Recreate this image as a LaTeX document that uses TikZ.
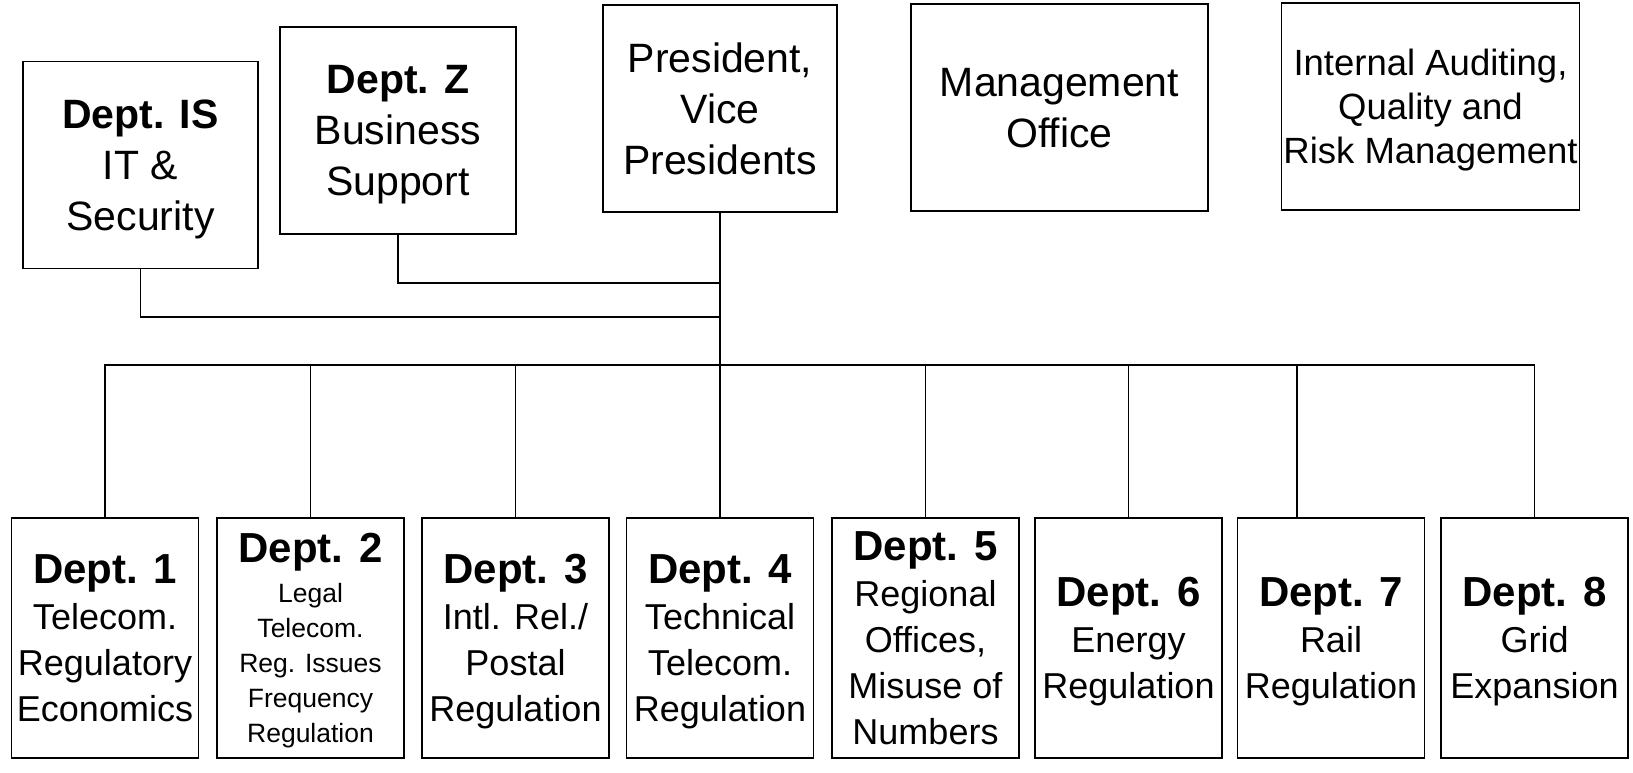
\documentclass[tikz,border=0pt]{standalone}
\usepackage{fontspec}
\setmainfont{Liberation Sans}
\usetikzlibrary{calc}
\newcommand{\depthead}[1]{{\bfseries\fontsize{42}{48}\selectfont #1}}

\begin{document}
\begin{tikzpicture}[x=1pt, y=-1pt, line width=1.8pt,
  topbox/.style={draw, line width=1.8pt, align=center, inner sep=0pt, text depth=0pt,
    minimum height=207pt, font=\fontsize{41}{51}\selectfont},
  deptbox/.style={draw, line width=1.8pt, align=center, inner sep=0pt, text depth=0pt,
    minimum width=187pt, minimum height=240pt, font=\fontsize{36}{46}\selectfont}]

\useasboundingbox (0,0) rectangle (1633,772);

% Top row
\node[topbox, minimum width=235pt] (IS) at (140.5,165) {{\bfseries Dept. IS}\\IT \&\\Security};
\node[topbox, minimum width=236pt] (Z) at (398,130.5) {{\bfseries Dept. Z}\\Business\\Support};
\node[topbox, minimum width=234pt] (Pres) at (720,108.5) {President,\\Vice\\Presidents};
\node[topbox, minimum width=297pt] (Mgmt) at (1059.5,107.5) {Management\\Office};
\node[topbox, minimum width=298pt, font=\fontsize{36.5}{44}\selectfont] (Audit) at (1430.5,106.5)
  {Internal Auditing,\\Quality and\\Risk Management};

% Department boxes
\foreach \i/\x/\name in {
  1/105/{\depthead{Dept. 1}\\Telecom.\\Regulatory\\Economics},
  3/515.5/{\depthead{Dept. 3}\\Intl. Rel./\\Postal\\Regulation},
  4/720/{\depthead{Dept. 4}\\Technical\\Telecom.\\Regulation},
  5/925.5/{\depthead{Dept. 5}\\Regional\\Offices,\\Misuse of\\Numbers},
  6/1128.5/{\depthead{Dept. 6}\\Energy\\Regulation},
  7/1331/{\depthead{Dept. 7}\\Rail\\Regulation},
  8/1534.5/{\depthead{Dept. 8}\\Grid\\Expansion}}
\node[deptbox] (D\i) at (\x,638) {\name};

\node[deptbox, font=\fontsize{26.5}{35}\selectfont] (D2) at (310.5,638)
  {\depthead{Dept. 2}\\[5pt]Legal\\Telecom.\\Reg. Issues\\Frequency\\Regulation};

% Joints
\coordinate (bus) at (720,365);
\coordinate (jZ) at (720,283);
\coordinate (jIS) at (720,317);
\coordinate (b7) at (1297,365);

% Staff units to the president line
\draw (Pres.south) -- (bus);
\draw (Z.south) |- (jZ);
\draw (IS.south) |- (jIS);

% Bus to departments
\foreach \i in {1,2,3,4,5,6,8}
\draw (D\i.north) |- (bus);
\draw (b7) -- (b7 |- D7.north);

\end{tikzpicture}
\end{document}
